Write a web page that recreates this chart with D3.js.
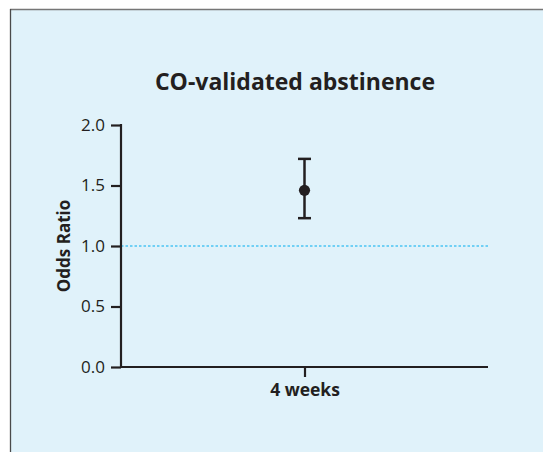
<!DOCTYPE html>
<html>
<head>
<meta charset="utf-8">
<script src="https://cdn.jsdelivr.net/npm/d3@7"></script>
<style>
  html, body { margin: 0; padding: 0; background: #ffffff; }
  svg { display: block; }
</style>
</head>
<body>
<svg id="chart" width="543" height="452"></svg>
<script>
const title = "CO-validated abstinence";
const categories = ["4 weeks"];
const oddsRatio = [1.46];
const ciLower = [1.23];
const ciUpper = [1.72];
const yTicks = [0.0, 0.5, 1.0, 1.5, 2.0];
const yLabel = "Odds Ratio";
const referenceValue = 1.0;

(function () {
const svg = d3.select("#chart");
const W = 543, H = 452;
const ink = "#231f20";
const fontFam = "'Open Sans', 'Noto Sans', sans-serif";

// panel
svg.append("rect").attr("x", 10).attr("y", 9).attr("width", W - 10).attr("height", H - 9)
  .attr("fill", "#e0f2fa");
svg.append("line").attr("x1", 10).attr("x2", W).attr("y1", 9.5).attr("y2", 9.5)
  .attr("stroke", "#767676").attr("stroke-width", 1.5);
svg.append("line").attr("x1", 10.5).attr("x2", 10.5).attr("y1", 9).attr("y2", H)
  .attr("stroke", "#4a4a4a").attr("stroke-width", 1.3);

const pLeft = 121, pRight = 488, pTop = 125, pBottom = 367;

const y = d3.scaleLinear().domain([0, 2]).range([pBottom, pTop]);
const x = d3.scalePoint().domain(categories).range([pLeft, pRight]).padding(0.5);

// title
svg.append("text").attr("x", 295).attr("y", 90)
  .attr("text-anchor", "middle").attr("font-family", fontFam)
  .attr("font-weight", "bold").attr("font-size", 23).attr("fill", ink)
  .text(title);

// reference line
svg.append("line")
  .attr("x1", pLeft).attr("x2", pRight)
  .attr("y1", y(referenceValue)).attr("y2", y(referenceValue))
  .attr("stroke", "#00aeef").attr("stroke-width", 1.2)
  .attr("stroke-dasharray", "2.5,2");

// y axis
const yAxis = svg.append("g").attr("transform", `translate(${pLeft},0)`)
  .call(d3.axisLeft(y).tickValues(yTicks).tickFormat(d3.format(".1f")).tickSize(10).tickPadding(6));
yAxis.select(".domain").remove();
yAxis.append("line").attr("x1", 0).attr("x2", 0).attr("y1", pTop - 1).attr("y2", pBottom + 1)
  .attr("stroke", ink).attr("stroke-width", 2.2);
yAxis.selectAll(".tick line").attr("stroke", ink).attr("stroke-width", 2.2);
yAxis.selectAll(".tick text").attr("fill", ink).attr("font-family", fontFam)
  .attr("font-size", 17);

// x axis
const xAxis = svg.append("g").attr("transform", `translate(0,${pBottom})`)
  .call(d3.axisBottom(x).tickSize(10).tickPadding(7));
xAxis.select(".domain").remove();
xAxis.append("line").attr("x1", pLeft).attr("x2", pRight).attr("y1", 0).attr("y2", 0)
  .attr("stroke", ink).attr("stroke-width", 2.2);
xAxis.selectAll(".tick line").attr("stroke", ink).attr("stroke-width", 2.2);
xAxis.selectAll(".tick text").attr("fill", ink).attr("font-family", fontFam)
  .attr("font-size", 17.5).attr("font-weight", "bold");

// y label
svg.append("text")
  .attr("transform", `translate(70,${y(1)}) rotate(-90)`)
  .attr("text-anchor", "middle").attr("font-family", fontFam)
  .attr("font-weight", "bold").attr("font-size", 17).attr("fill", ink)
  .text(yLabel);

// error bars
const g = svg.append("g");
categories.forEach((c, i) => {
  const cx = x(c);
  g.append("line").attr("x1", cx).attr("x2", cx)
    .attr("y1", y(ciLower[i])).attr("y2", y(ciUpper[i]))
    .attr("stroke", ink).attr("stroke-width", 2.5);
  [ciLower[i], ciUpper[i]].forEach(v => {
    g.append("line").attr("x1", cx - 6.5).attr("x2", cx + 6.5)
      .attr("y1", y(v)).attr("y2", y(v))
      .attr("stroke", ink).attr("stroke-width", 2.5);
  });
  g.append("circle").attr("cx", cx).attr("cy", y(oddsRatio[i])).attr("r", 5.6)
    .attr("fill", ink);
});
})();
</script>
</body>
</html>
